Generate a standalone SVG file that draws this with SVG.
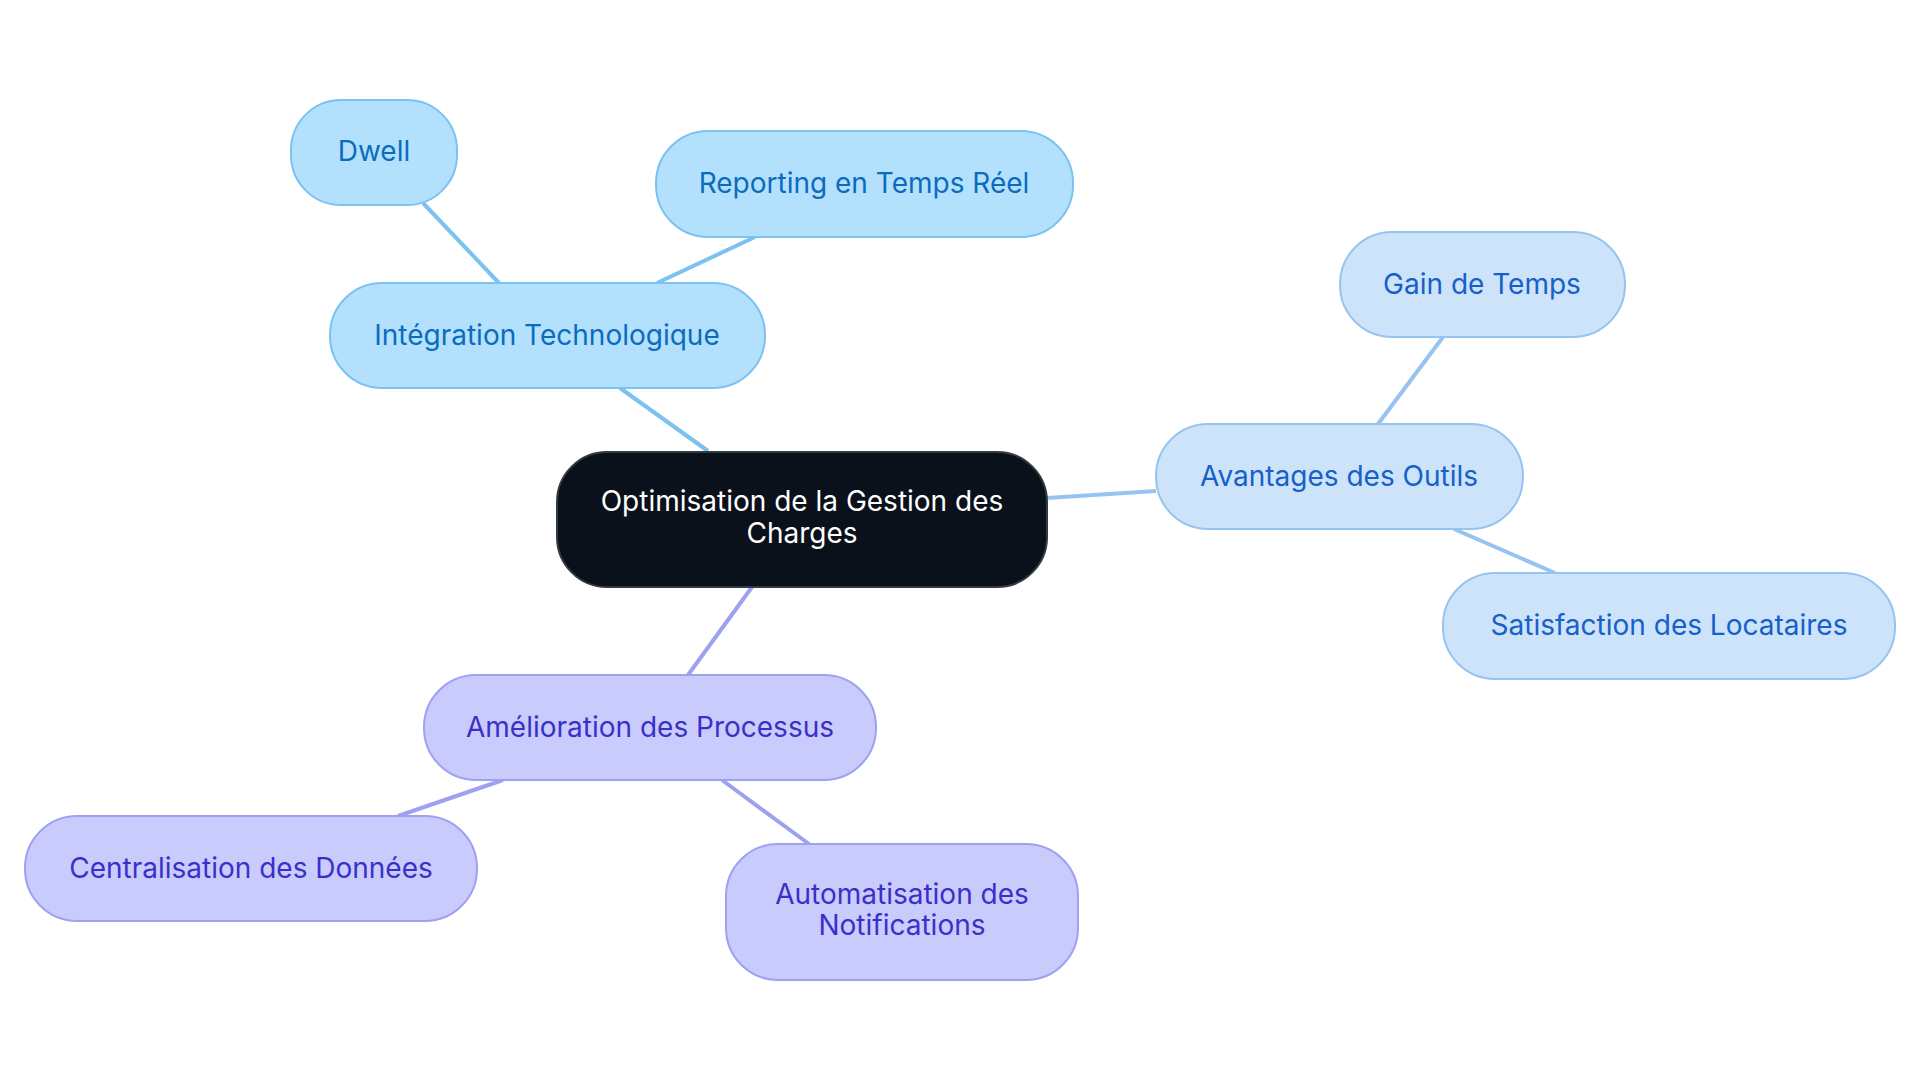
<svg xmlns="http://www.w3.org/2000/svg" width="1920" height="1083" viewBox="0 0 1920 1083">
<style>
text{font-family:Inter,"Noto Sans",sans-serif;font-size:28px;text-anchor:middle}
.b rect{fill:#b3e0fd;stroke:#7cc2f0;stroke-width:2}
.b text{fill:#0b6cbd}
.a rect{fill:#cde3fa;stroke:#96c4f0;stroke-width:2}
.a text{fill:#1560c9}
.p rect{fill:#c9cbfc;stroke:#9ea1f0;stroke-width:2}
.p text{fill:#3a30c9}
.c rect{fill:#0b111a;stroke:#333a44;stroke-width:2}
.c text{fill:#ffffff}
#edges line{stroke-width:4;fill:none}
</style>
<rect width="1920" height="1083" fill="#ffffff"/>
<g id="edges">
<line x1="620" y1="388" x2="708" y2="451" stroke="#7cc2f0"/>
<line x1="423" y1="203" x2="499" y2="283" stroke="#7cc2f0"/>
<line x1="755" y1="237" x2="657" y2="283" stroke="#7cc2f0"/>
<line x1="1047" y1="498" x2="1156" y2="491" stroke="#96c4f0"/>
<line x1="1443" y1="337" x2="1378" y2="424" stroke="#96c4f0"/>
<line x1="1454" y1="529" x2="1555" y2="573" stroke="#96c4f0"/>
<line x1="752" y1="587" x2="688" y2="675" stroke="#9ea1f0"/>
<line x1="503" y1="780" x2="398" y2="816" stroke="#9ea1f0"/>
<line x1="722" y1="780" x2="809" y2="844" stroke="#9ea1f0"/>
</g>
<g id="n-central" class="c">
<rect x="557" y="452" width="490" height="135" rx="50"/>
<text x="802" y="511">Optimisation de la Gestion des</text>
<text x="802" y="543">Charges</text>
</g>
<g id="n-integration" class="b">
<rect x="330" y="283" width="435" height="105" rx="52"/>
<text x="547" y="345">Intégration Technologique</text>
</g>
<g id="n-dwell" class="b">
<rect x="291" y="100" width="166" height="105" rx="50"/>
<text x="374" y="161">Dwell</text>
</g>
<g id="n-reporting" class="b">
<rect x="656" y="131" width="417" height="106" rx="52"/>
<text x="864" y="193">Reporting en Temps Réel</text>
</g>
<g id="n-avantages" class="a">
<rect x="1156" y="424" width="367" height="105" rx="52"/>
<text x="1339" y="486">Avantages des Outils</text>
</g>
<g id="n-gain" class="a">
<rect x="1340" y="232" width="285" height="105" rx="52"/>
<text x="1482" y="294">Gain de Temps</text>
</g>
<g id="n-satisfaction" class="a">
<rect x="1443" y="573" width="452" height="106" rx="52"/>
<text x="1669" y="635">Satisfaction des Locataires</text>
</g>
<g id="n-amelioration" class="p">
<rect x="424" y="675" width="452" height="105" rx="52"/>
<text x="650" y="737">Amélioration des Processus</text>
</g>
<g id="n-centralisation" class="p">
<rect x="25" y="816" width="452" height="105" rx="52"/>
<text x="251" y="878">Centralisation des Données</text>
</g>
<g id="n-automatisation" class="p">
<rect x="726" y="844" width="352" height="136" rx="52"/>
<text x="902" y="904">Automatisation des</text>
<text x="902" y="935">Notifications</text>
</g>
</svg>
